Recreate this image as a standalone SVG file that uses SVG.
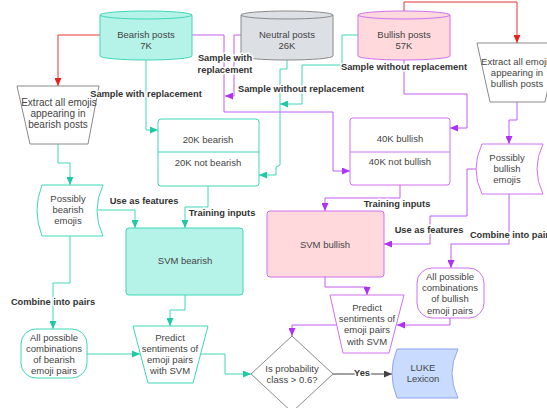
<svg xmlns="http://www.w3.org/2000/svg" width="547" height="408" viewBox="0 0 547 408">
<defs>
<style>
.t{font-family:"Liberation Sans",Arial,sans-serif;font-size:9.5px;fill:#444;text-anchor:middle}
.l{font-family:"Liberation Sans",Arial,sans-serif;font-size:9.3px;font-weight:bold;fill:#333;text-anchor:middle;paint-order:stroke;stroke:#fff;stroke-width:3px;stroke-linejoin:round}
.teal{fill:#b5f3e8;stroke:#3fd6b8;stroke-width:1}
.tealw{fill:#fff;stroke:#3fd6b8;stroke-width:1}
.pink{fill:#ffd9dc;stroke:#d070f0;stroke-width:1}
.purw{fill:#fff;stroke:#d070f0;stroke-width:1}
.gray{fill:#dcdfe4;stroke:#8a8a8a;stroke-width:1}
.grayw{fill:#fff;stroke:#8a8a8a;stroke-width:1}
.blue{fill:#c9dcff;stroke:#8fa4f0;stroke-width:1}
.ct{fill:none;stroke:#3fd6b8;stroke-width:1;marker-end:url(#at)}
.cp{fill:none;stroke:#c35cf2;stroke-width:1;marker-end:url(#ap)}
.cr{fill:none;stroke:#e83030;stroke-width:1;marker-end:url(#ar)}
.cd{fill:none;stroke:#444;stroke-width:1;marker-end:url(#ad)}
</style>
<marker id="at" markerUnits="userSpaceOnUse" markerWidth="8" markerHeight="7" refX="8" refY="3.5" orient="auto"><path d="M0,0L8,3.5L0,7z" fill="#1fc9a4"/></marker>
<marker id="ap" markerUnits="userSpaceOnUse" markerWidth="8" markerHeight="7" refX="8" refY="3.5" orient="auto"><path d="M0,0L8,3.5L0,7z" fill="#b030f5"/></marker>
<marker id="ar" markerUnits="userSpaceOnUse" markerWidth="8" markerHeight="7" refX="8" refY="3.5" orient="auto"><path d="M0,0L8,3.5L0,7z" fill="#e82020"/></marker>
<marker id="ad" markerUnits="userSpaceOnUse" markerWidth="8" markerHeight="7" refX="8" refY="3.5" orient="auto"><path d="M0,0L8,3.5L0,7z" fill="#444"/></marker>
</defs>
<rect width="547" height="408" fill="#fff"/>

<g id="connectors">
<polyline class="cr" points="100,35 58,35 58,86"/>
<polyline class="cr" points="404,11 404,2 517,2 517,43"/>
<polyline class="ct" points="146,60 146,130 158,130"/>
<polyline class="ct" points="287,60 287,69 280,69 280,165 276,167 276,175 259,175"/>
<polyline class="ct" points="358,35 342,35 342,65 302,65 302,104 280,104"/>
<polyline class="ct" points="58,144 58,163 70,163 70,185"/>
<polyline class="ct" points="98,210 135,210 135,228"/>
<polyline class="ct" points="208,186 208,207 185,207 185,228"/>
<polyline class="ct" points="70,236 70,283 53,283 53,329"/>
<polyline class="ct" points="87,354 140,354"/>
<polyline class="ct" points="185,295 185,310 170,310 170,326"/>
<polyline class="ct" points="201,354 225,354 225,374 251,374"/>
<polyline class="cp" points="192,35 224,35 224,112 333,112 333,171 350,171"/>
<polyline class="cp" points="241,35 234,35 234,96 225,96"/>
<polyline class="cp" points="404,60 404,94 467,94 467,128 450,128"/>
<polyline class="cp" points="400,185 400,198 325,198 325,211"/>
<polyline class="cp" points="517,102 517,120 509,120 509,144"/>
<polyline class="cp" points="476,169 467,169 467,216 430,216 430,244 384,244"/>
<polyline class="cp" points="509,194 509,244 451,244 451,268"/>
<polyline class="cp" points="450,318 450,325 397,325"/>
<polyline class="cp" points="325,277 325,287 367,287 367,295"/>
<polyline class="cp" points="337,325 292,325 292,336"/>
<polyline class="cd" points="333,374 392,374"/>
</g>

<g id="bearish-posts">
<path class="teal" d="M100,15A46,4 0 0 1 192,15V56A46,4 0 0 1 100,56Z"/>
<path class="teal" fill="none" d="M100,15A46,4 0 0 0 192,15"/>
<text class="t" x="146" y="37.5">Bearish posts</text>
<text class="t" x="146" y="48.5">7K</text>
</g>
<g id="neutral-posts">
<path class="gray" d="M241,15A46,4 0 0 1 333,15V56A46,4 0 0 1 241,56Z"/>
<path class="gray" fill="none" d="M241,15A46,4 0 0 0 333,15"/>
<text class="t" x="287" y="37.5">Neutral posts</text>
<text class="t" x="287" y="48.5">26K</text>
</g>
<g id="bullish-posts">
<path class="pink" d="M358,15A46,4 0 0 1 450,15V56A46,4 0 0 1 358,56Z"/>
<path class="pink" fill="none" d="M358,15A46,4 0 0 0 450,15"/>
<text class="t" x="404" y="37.5">Bullish posts</text>
<text class="t" x="404" y="48.5">57K</text>
</g>

<g id="extract-bearish">
<path class="grayw" d="M17,86H99L88,144H30Z" stroke-linejoin="round"/>
<text class="t" x="59" y="105.5" style="font-size:10px">Extract all emojis</text>
<text class="t" x="58" y="116.5" style="font-size:10px">appearing in</text>
<text class="t" x="58" y="127.5" style="font-size:10px">bearish posts</text>
</g>
<g id="extract-bullish">
<path class="grayw" d="M477,43H558L545,102H490Z" stroke-linejoin="round"/>
<text class="t" x="517" y="64.5">Extract all emojis</text>
<text class="t" x="517" y="75.5">appearing in</text>
<text class="t" x="517" y="86.5">bullish posts</text>
</g>

<g id="sample-20k">
<rect class="tealw" x="158" y="119" width="101" height="67" rx="3"/>
<line x1="158" y1="152" x2="259" y2="152" stroke="#3fd6b8"/>
<text class="t" x="208" y="142.5">20K bearish</text>
<text class="t" x="208" y="165.5">20K not bearish</text>
</g>
<g id="sample-40k">
<rect class="purw" x="350" y="118" width="100" height="67" rx="3"/>
<line x1="350" y1="152" x2="450" y2="152" stroke="#d070f0"/>
<text class="t" x="400" y="141.5">40K bullish</text>
<text class="t" x="400" y="164.5">40K not bullish</text>
</g>

<g id="possibly-bearish">
<path class="tealw" d="M42,185H103Q91,210.5 103,236H42Q32,210.5 42,185Z"/>
<text class="t" x="68" y="201.5">Possibly</text>
<text class="t" x="68" y="212.5">bearish</text>
<text class="t" x="68" y="223.5">emojis</text>
</g>
<g id="possibly-bullish">
<path class="purw" d="M482,144H543Q531,169 543,194H482Q470,169 482,144Z"/>
<text class="t" x="507" y="160.5">Possibly</text>
<text class="t" x="507" y="171.5">bullish</text>
<text class="t" x="507" y="182.5">emojis</text>
</g>

<g id="svm-bearish">
<rect class="teal" x="126" y="228" width="117" height="67" rx="3"/>
<text class="t" x="185" y="263.5">SVM bearish</text>
</g>
<g id="svm-bullish">
<rect class="pink" x="267" y="211" width="117" height="66" rx="3"/>
<text class="t" x="325" y="247.5">SVM bullish</text>
</g>

<g id="combos-bearish">
<rect class="tealw" x="21" y="329" width="66" height="49" rx="15"/>
<text class="t" x="54" y="340.5">All possible</text>
<text class="t" x="54" y="351.5">combinations</text>
<text class="t" x="54" y="362.5">of bearish</text>
<text class="t" x="54" y="373.5">emoji pairs</text>
</g>
<g id="combos-bullish">
<rect class="purw" x="417" y="268" width="67" height="50" rx="15"/>
<text class="t" x="450" y="279.5">All possible</text>
<text class="t" x="450" y="291">combinations</text>
<text class="t" x="450" y="302">of bullish</text>
<text class="t" x="450" y="313.5">emoji pairs</text>
</g>

<g id="predict-bearish">
<path class="tealw" d="M133,326H208L193,383H148Z" stroke-linejoin="round"/>
<text class="t" x="170" y="340.5">Predict</text>
<text class="t" x="170" y="351.5">sentiments of</text>
<text class="t" x="170" y="362.5">emoji pairs</text>
<text class="t" x="170" y="373.5">with SVM</text>
</g>
<g id="predict-bullish">
<path class="purw" d="M330,295H404L389,353H343Z" stroke-linejoin="round"/>
<text class="t" x="367" y="310.5">Predict</text>
<text class="t" x="367" y="321.5">sentiments of</text>
<text class="t" x="367" y="333">emoji pairs</text>
<text class="t" x="367" y="344.5">with SVM</text>
</g>

<g id="decision">
<path class="grayw" d="M292,336L333,374L292,412L251,374Z"/>
<text class="t" x="292" y="371.5">Is probability</text>
<text class="t" x="292" y="382.5">class &gt; 0.6?</text>
</g>
<g id="luke-lexicon">
<path class="blue" d="M397,349H458Q446,373.5 458,398H397Q387,373.5 397,349Z"/>
<text class="t" x="423" y="370.5">LUKE</text>
<text class="t" x="423" y="381.5">Lexicon</text>
</g>

<g id="connector-labels">
<text class="l" x="146" y="97.3">Sample with replacement</text>
<text class="l" x="225" y="61.3">Sample with</text>
<text class="l" x="225" y="73.3">replacement</text>
<text class="l" x="301" y="92.3">Sample without replacement</text>
<text class="l" x="404" y="70.3">Sample without replacement</text>
<text class="l" x="144" y="204.3">Use as features</text>
<text class="l" x="222" y="216.3">Training inputs</text>
<text class="l" x="53" y="305.3">Combine into pairs</text>
<text class="l" x="397" y="207.3">Training inputs</text>
<text class="l" x="429" y="233.3">Use as features</text>
<text class="l" x="512" y="238.3">Combine into pairs</text>
<text class="l" x="362" y="376.3">Yes</text>
</g>
</svg>
